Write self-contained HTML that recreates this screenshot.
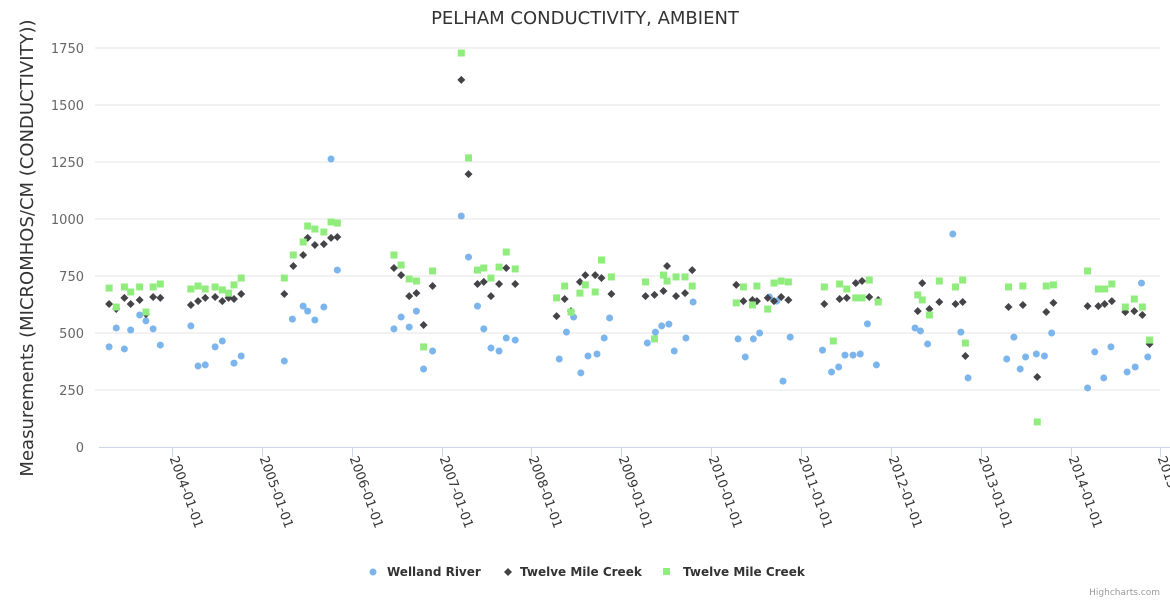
<!DOCTYPE html>
<html><head><meta charset="utf-8"><style>
body{margin:0;background:#fff;}
svg{display:block;font-family:"DejaVu Sans","Liberation Sans",sans-serif;}
</style></head><body>
<svg id="chart" width="1170" height="600">
<text x="585" y="24" text-anchor="middle" font-size="18" fill="#333">PELHAM CONDUCTIVITY, AMBIENT</text>
<text transform="translate(33,248) rotate(-90)" text-anchor="middle" font-size="18" fill="#333">Measurements (MICROMHOS/CM (CONDUCTIVITY))</text>
<g id="grid"></g><g id="xaxis"></g><g id="marks"></g>
<g>
<g><circle cx="373" cy="572" r="3.5" fill="#7cb5ec"/><text x="387" y="576" font-size="12" font-weight="bold" fill="#333">Welland River</text></g>
<g><path d="M508 568 L512 572 L508 576 L504 572Z" fill="#434348"/><text x="520" y="576" font-size="12" font-weight="bold" fill="#333">Twelve Mile Creek</text></g>
<g><rect x="663" y="568" width="7" height="7" fill="#90ed7d"/><text x="683" y="576" font-size="12" font-weight="bold" fill="#333">Twelve Mile Creek</text></g>
</g>
<text x="1160" y="595" text-anchor="end" font-size="9" fill="#999">Highcharts.com</text>
</svg>
<script>
const yTicks=[0,250,500,750,1000,1250,1500,1750];
const xTickYears=[2004,2005,2006,2007,2008,2009,2010,2011,2012,2013,2014,2015];
const wellandDates=[2003.30,2003.38,2003.47,2003.54,2003.64,2003.71,2003.79,2003.87,2004.21,2004.29,2004.37,2004.48,2004.56,2004.69,2004.77,2005.25,2005.34,2005.46,2005.51,2005.59,2005.69,2005.77,2005.84,2006.47,2006.55,2006.64,2006.72,2006.80,2006.90,2007.22,2007.30,2007.40,2007.47,2007.55,2007.64,2007.72,2007.82,2008.31,2008.39,2008.47,2008.55,2008.63,2008.73,2008.81,2008.87,2009.29,2009.38,2009.45,2009.53,2009.59,2009.72,2009.80,2010.30,2010.38,2010.47,2010.54,2010.65,2010.73,2010.80,2010.88,2011.24,2011.34,2011.42,2011.49,2011.58,2011.66,2011.74,2011.84,2012.27,2012.33,2012.41,2012.69,2012.78,2012.86,2013.29,2013.37,2013.44,2013.50,2013.62,2013.71,2013.79,2014.19,2014.27,2014.37,2014.45,2014.63,2014.72,2014.79,2014.86];
const wellandValues=[439,522,430,513,579,553,518,447,531,355,360,439,465,368,399,377,561,618,596,557,614,1263,776,518,570,526,596,342,421,1013,833,618,518,434,421,478,469,386,504,570,325,399,408,478,566,456,504,531,539,421,478,636,474,395,474,500,658,640,289,482,425,329,351,403,403,408,540,360,522,509,452,934,504,303,386,482,342,395,408,399,500,259,417,303,439,329,351,719,395];
const creekADates=[2003.30,2003.38,2003.47,2003.54,2003.64,2003.71,2003.79,2003.87,2004.21,2004.29,2004.37,2004.48,2004.56,2004.63,2004.69,2004.77,2005.25,2005.35,2005.46,2005.51,2005.59,2005.69,2005.77,2005.84,2006.47,2006.55,2006.64,2006.72,2006.80,2006.90,2007.22,2007.30,2007.40,2007.47,2007.55,2007.64,2007.72,2007.82,2008.28,2008.37,2008.44,2008.54,2008.60,2008.71,2008.78,2008.89,2009.27,2009.37,2009.47,2009.51,2009.61,2009.71,2009.79,2010.28,2010.36,2010.46,2010.51,2010.63,2010.70,2010.78,2010.86,2011.26,2011.43,2011.51,2011.61,2011.68,2011.76,2011.86,2012.30,2012.35,2012.43,2012.54,2012.72,2012.80,2012.83,2013.31,2013.47,2013.63,2013.73,2013.81,2014.19,2014.31,2014.38,2014.46,2014.61,2014.71,2014.80,2014.88];
const creekAValues=[627,605,654,627,645,583,658,654,623,640,654,658,640,654,649,671,671,794,842,917,886,890,917,921,785,754,662,675,535,706,1610,1197,715,724,662,715,785,715,574,649,596,724,754,754,741,671,662,667,684,794,662,675,776,711,640,645,640,654,640,658,645,627,649,654,719,728,658,645,596,719,605,636,627,636,399,614,623,307,592,632,618,618,627,640,592,596,579,452];
const creekBDates=[2003.30,2003.38,2003.47,2003.54,2003.64,2003.71,2003.79,2003.87,2004.21,2004.29,2004.37,2004.48,2004.56,2004.63,2004.69,2004.77,2005.25,2005.35,2005.46,2005.51,2005.59,2005.69,2005.77,2005.84,2006.47,2006.55,2006.64,2006.72,2006.80,2006.90,2007.22,2007.30,2007.40,2007.47,2007.55,2007.64,2007.72,2007.82,2008.28,2008.37,2008.44,2008.54,2008.60,2008.71,2008.78,2008.89,2009.27,2009.37,2009.47,2009.51,2009.61,2009.71,2009.79,2010.28,2010.36,2010.46,2010.51,2010.63,2010.70,2010.78,2010.86,2011.26,2011.36,2011.43,2011.51,2011.61,2011.68,2011.76,2011.86,2012.30,2012.35,2012.43,2012.54,2012.72,2012.80,2012.83,2013.31,2013.47,2013.63,2013.73,2013.81,2014.19,2014.31,2014.38,2014.46,2014.61,2014.71,2014.80,2014.88];
const creekBValues=[697,614,702,680,702,592,702,715,693,706,693,702,689,675,711,741,741,842,899,969,956,943,987,982,842,798,737,728,439,772,1728,1268,776,785,741,789,855,781,654,706,592,675,711,680,820,746,724,474,754,728,746,746,706,632,702,623,706,605,719,728,724,702,465,715,693,654,654,732,636,667,645,579,728,702,732,456,702,706,110,706,711,772,693,693,715,614,649,614,469];

const NS='http://www.w3.org/2000/svg';
const xS=yr=>172+(yr-2004)*89.85;
const yS=v=>447-v*0.228;
function mk(tag,attrs,parent){const e=document.createElementNS(NS,tag);for(const k in attrs)e.setAttribute(k,attrs[k]);parent.appendChild(e);return e;}
const grid=document.getElementById('grid'),xa=document.getElementById('xaxis'),marks=document.getElementById('marks');
yTicks.forEach(t=>{
  if(t>0){const l=mk('line',{x1:95,x2:1160,y1:yS(t),y2:yS(t),stroke:'#e6e6e6'},grid);
  
  }
  const tx=mk('text',{x:84,y:yS(t)+5,'text-anchor':'end','font-size':13,fill:'#666'},grid);
  tx.textContent=t;
  
  
});
const ax=mk('line',{x1:99,x2:1170,y1:447.5,y2:447.5,stroke:'#ccd6eb'},xa);


xTickYears.forEach(yr=>{
  const x=Math.round(xS(yr))+0.5;
  mk('line',{x1:x,x2:x,y1:447,y2:457,stroke:'#ccd6eb'},xa);
  const t=mk('text',{transform:`translate(${x-3},${458}) rotate(70)`,'font-size':13,fill:'#333'},xa);
  t.textContent=yr+'-01-01';
  
  
});
wellandDates.forEach((d,i)=>{
  const c=mk('circle',{cx:xS(d),cy:yS(wellandValues[i]),r:3.5,fill:'#7cb5ec'},marks);
  
  
});
creekADates.forEach((d,i)=>{
  const x=xS(d),y=yS(creekAValues[i]);
  const p=mk('path',{d:`M${x} ${y-4}L${x+4} ${y}L${x} ${y+4}L${x-4} ${y}Z`,fill:'#434348'},marks);
  
  
});
creekBDates.forEach((d,i)=>{
  const r=mk('rect',{x:xS(d)-3.5,y:yS(creekBValues[i])-3.5,width:7,height:7,fill:'#90ed7d'},marks);
  
  
});
</script>
</body></html>
